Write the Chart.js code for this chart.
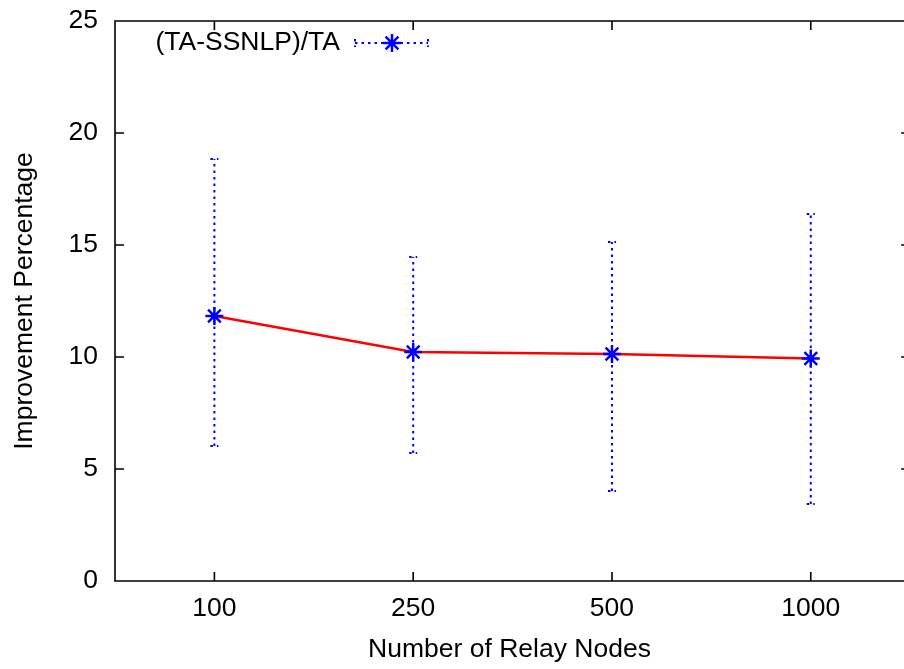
<!DOCTYPE html>
<html>
<head>
<meta charset="utf-8">
<script src="https://cdn.jsdelivr.net/npm/chart.js@4.4.0/dist/chart.umd.min.js"></script>
<style>
  html, body { margin: 0; padding: 0; background: #fff; }
  #wrap { width: 904px; height: 669px; }
</style>
</head>
<body>
<div id="wrap"><canvas id="chart" width="904" height="669"></canvas></div>
<script>
const categories = ["100", "250", "500", "1000"];
const meanValues = [11.83, 10.22, 10.13, 9.93];
const upperValues = [18.84, 14.46, 15.13, 16.38];
const lowerValues = [6.03, 5.71, 4.02, 3.44];
const yTicks = [0, 5, 10, 15, 20, 25];
const seriesLabel = "(TA-SSNLP)/TA";

const FONT = "'Liberation Sans', Arial, sans-serif";
const BLUE = "#0000ff";

// error bars, frame and inward ticks, gnuplot style
const gnuplotPlugin = {
  id: "gnuplotLook",
  beforeDatasetsDraw(chart) {
    const { ctx, scales } = chart;
    const x = scales.x, y = scales.y;
    ctx.save();
    ctx.strokeStyle = BLUE;
    ctx.lineWidth = 2;
    ctx.setLineDash([2.5, 4]);
    categories.forEach((c, i) => {
      const px = x.getPixelForValue(i);
      const top = y.getPixelForValue(upperValues[i]);
      const bot = y.getPixelForValue(lowerValues[i]);
      ctx.beginPath();
      ctx.moveTo(px, bot);
      ctx.lineTo(px, top);
      ctx.stroke();
      ctx.beginPath();
      ctx.moveTo(px - 4, top);
      ctx.lineTo(px + 4, top);
      ctx.moveTo(px - 4, bot);
      ctx.lineTo(px + 4, bot);
      ctx.stroke();
    });
    ctx.restore();
  },
  afterDraw(chart) {
    const { ctx, chartArea, scales } = chart;
    const { left, top, bottom } = chartArea;
    const x = scales.x, y = scales.y;
    // the plot frame runs a little past the canvas on the right
    const right = x.getPixelForValue(3.5);
    ctx.save();
    ctx.strokeStyle = "#000";
    ctx.lineWidth = 1.6;
    ctx.beginPath();
    ctx.moveTo(right, top);
    ctx.lineTo(left, top);
    ctx.lineTo(left, bottom);
    ctx.lineTo(right, bottom);
    ctx.lineTo(right, top);
    yTicks.forEach((v) => {
      const py = y.getPixelForValue(v);
      ctx.moveTo(left, py);
      ctx.lineTo(left + 9, py);
      ctx.moveTo(right, py);
      ctx.lineTo(right - 9, py);
    });
    categories.forEach((c, i) => {
      const px = x.getPixelForValue(i);
      ctx.moveTo(px, bottom);
      ctx.lineTo(px, bottom - 9);
      ctx.moveTo(px, top);
      ctx.lineTo(px, top + 9);
    });
    ctx.stroke();

    // key
    const ky = 43;
    ctx.fillStyle = "#000";
    ctx.font = "26.5px " + FONT;
    ctx.textAlign = "right";
    ctx.textBaseline = "middle";
    ctx.fillText(seriesLabel, 340, ky);
    ctx.strokeStyle = BLUE;
    ctx.lineWidth = 2;
    ctx.setLineDash([2.5, 4]);
    ctx.beginPath();
    ctx.moveTo(355, ky);
    ctx.lineTo(428, ky);
    ctx.moveTo(355, ky - 4);
    ctx.lineTo(355, ky + 4);
    ctx.moveTo(428, ky - 4);
    ctx.lineTo(428, ky + 4);
    ctx.stroke();
    ctx.setLineDash([]);
    const cx = 392, r = 9;
    ctx.lineWidth = 2.5;
    ctx.beginPath();
    for (let k = 0; k < 4; k++) {
      const a = k * Math.PI / 4;
      ctx.moveTo(cx - r * Math.cos(a), ky - r * Math.sin(a));
      ctx.lineTo(cx + r * Math.cos(a), ky + r * Math.sin(a));
    }
    ctx.stroke();
    ctx.restore();
  }
};

new Chart(document.getElementById("chart"), {
  type: "line",
  data: {
    datasets: [
      {
        label: seriesLabel,
        data: meanValues.map((v, i) => ({ x: i, y: v })),
        borderColor: "#ff0000",
        borderWidth: 2.5,
        pointStyle: "star",
        pointRadius: 9,
        pointBorderColor: BLUE,
        pointBackgroundColor: BLUE,
        pointBorderWidth: 2.5,
        tension: 0,
        fill: false,
      },
    ],
  },
  options: {
    responsive: false,
    animation: false,
    layout: { autoPadding: false, padding: { left: 0, top: 21, right: 0, bottom: 0 } },
    plugins: {
      legend: { display: false },
      tooltip: { enabled: false },
    },
    scales: {
      x: {
        type: "linear",
        min: -0.5,
        max: 3.469,
        grid: { display: false, drawTicks: false },
        border: { display: false },
        afterBuildTicks: (s) => { s.ticks = categories.map((c, i) => ({ value: i })); },
        ticks: {
          color: "#000",
          font: { family: FONT, size: 26.5 },
          padding: 12,
          maxRotation: 0,
          callback: (v) => categories[v],
        },
        title: {
          display: true,
          text: "Number of Relay Nodes",
          color: "#000",
          font: { family: FONT, size: 26.5 },
          padding: { top: 0, bottom: 3 },
        },
        afterFit: (s) => { s.height = 88; s.paddingLeft = 0; s.paddingRight = 0; },
      },
      y: {
        min: 0,
        max: 25,
        grid: { display: false, drawTicks: false },
        border: { display: false },
        afterBuildTicks: (s) => { s.ticks = yTicks.map((v) => ({ value: v })); },
        ticks: {
          color: "#000",
          font: { family: FONT, size: 26.5 },
          padding: 17,
        },
        title: {
          display: true,
          text: "Improvement Percentage",
          color: "#000",
          font: { family: FONT, size: 26.5 },
          padding: { top: 9, bottom: 0 },
        },
        afterFit: (s) => { s.width = 115; s.paddingTop = 0; s.paddingBottom = 0; },
      },
    },
  },
  plugins: [gnuplotPlugin],
});
</script>
</body>
</html>
